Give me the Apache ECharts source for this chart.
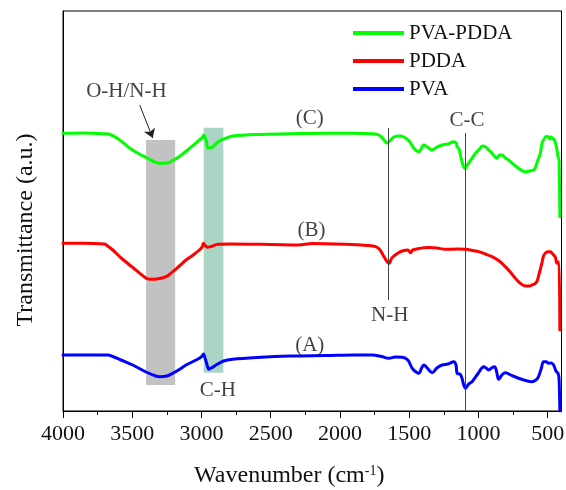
<!DOCTYPE html>
<html>
<head>
<meta charset="utf-8">
<script src="https://cdn.jsdelivr.net/npm/echarts@6/dist/echarts.min.js"></script>
<style>html,body{margin:0;padding:0;background:#fff}#c{width:566px;height:490px}</style>
</head>
<body>
<div id="c"></div>
<script>
// ---- data (wavenumber in cm^-1, transmittance in arbitrary offset units) ----
const seriesNames = ['PVA-PDDA', 'PDDA', 'PVA'];

const wnC = [4000,3850,3700,3660,3600,3520,3450,3400,3330,3300,3250,3220,3160,3085,3015,2990,2984,2965,2953,2935,2917,2880,2820,2772,2600,2363,2100,1900,1760,1720,1690,1659,1640,1610,1570,1538,1500,1466,1430,1394,1370,1334,1300,1262,1220,1178,1160,1154,1140,1122,1099,1070,1046,1020,998,970,950,925,902,880,866,848,830,805,782,750,710,680,661,630,602,590,578,565,553,540,530,510,497,485,475,460,451,440,430,425,418,412];
const tC  = [69.43,69.5,69.3,69.13,68.0,65.75,64.25,63.38,62.13,61.93,62.0,62.38,63.63,65.68,67.75,68.5,69.0,67.5,65.75,65.75,66.13,67.33,68.25,68.75,69.13,69.3,69.43,69.43,69.3,69.0,68.13,67.0,67.5,68.5,68.75,68.5,67.5,65.68,64.83,66.5,66.0,65.25,66.0,66.5,66.75,67.33,67.0,66.08,65.5,62.75,60.68,62.0,63.18,64.5,65.25,66.25,66.08,65.25,64.43,63.5,63.18,64.0,64.0,63.25,62.75,61.75,60.68,60.0,59.83,60.0,60.25,60.75,61.93,63.25,64.43,67.0,67.75,68.63,68.58,68.0,68.5,68.0,67.75,66.5,64.75,63.58,62.75,48.58];

const wnB = [4000,3850,3700,3687,3640,3580,3500,3430,3375,3320,3255,3207,3160,3111,3060,3015,2995,2986,2970,2955,2930,2883,2800,2500,2300,2200,1958,1800,1742,1710,1682,1646,1625,1610,1580,1550,1510,1490,1475,1454,1394,1350,1300,1238,1150,1094,1040,998,950,902,850,806,770,733,700,661,630,614,595,578,560,542,530,517,500,481,470,457,445,433,425,418,412];
const tB  = [41.93,41.93,41.75,41.5,40.25,38.25,36.0,34.0,32.93,33.0,33.58,34.83,36.25,37.75,39.0,40.25,41.0,41.93,41.25,40.93,41.13,41.68,41.75,41.63,41.5,41.88,41.68,41.38,41.08,40.25,38.58,36.93,38.25,38.75,39.5,40.0,40.25,39.58,40.25,40.43,40.83,40.88,40.75,40.43,40.5,40.43,40.13,39.83,39.25,38.58,37.5,36.08,34.75,33.18,32.0,31.25,31.25,31.5,31.75,32.33,34.5,36.93,38.75,39.43,39.83,39.83,39.5,39.0,38.5,36.93,37.25,37.25,20.25];

const wnA = [4000,3850,3676,3640,3580,3496,3400,3330,3303,3250,3207,3160,3111,3060,3015,2995,2986,2970,2955,2948,2930,2919,2895,2840,2775,2600,2363,2100,1900,1767,1700,1646,1600,1550,1510,1478,1450,1430,1410,1394,1370,1334,1300,1262,1220,1178,1162,1154,1135,1122,1094,1070,1046,1000,962,940,926,900,883,868,854,830,806,760,710,660,614,580,566,545,530,510,494,475,457,440,425,418,412];
const tA  = [14.0,14.0,14.0,13.63,12.75,11.5,9.75,8.75,8.58,8.75,9.43,10.38,11.5,12.38,13.18,13.75,14.25,12.75,11.0,10.43,10.75,10.93,11.5,12.5,12.93,13.38,13.75,13.88,14.0,14.0,13.63,13.18,13.5,13.43,12.75,10.68,9.75,9.43,10.75,11.5,10.75,9.58,10.75,11.5,11.75,12.33,11.5,9.43,9.25,8.58,5.68,6.75,7.33,9.5,11.08,10.63,10.25,10.88,11.08,9.75,7.93,9.0,9.58,8.88,8.18,7.63,7.33,7.88,8.58,10.75,12.33,12.33,11.93,12.0,11.5,10.0,9.43,8.25,0.0];

const xTickLabels = [4000, 3500, 3000, 2500, 2000, 1500, 1000, 500];
const xMinorTicks = [3750, 3250, 2750, 2250, 1750, 1250, 750];

// shaded bands: [fromWn, toWn, lowT, highT]
const bandOH = [3400, 3190, 6.5, 67.75];
const bandCH = [2984, 2842, 9.58, 70.83];
// vertical marker lines: [wn, lowT, highT]
const lineNH = [1653, 27.75, 70.75];
const lineCC = [1092, 0, 69.5];
// arrow: [wnStart, tStart, wnEnd, tEnd]
const arrowOH = [3446, 76.5, 3352, 68.25];
// text annotations
const noteText = ['(C)', '(B)', '(A)', 'C-C', 'N-H', 'C-H', 'O-H/N-H'];
const noteWn   = [2218, 2206, 2218, 1082, 1641, 2881, 3542];
const noteT    = [73.25, 45.25, 16.5, 72.75, 24.0, 5.25, 79.83];

// ---- chart ----
const FONT = '"Liberation Serif", "Times New Roman", serif';
const zip = (xs, ys) => xs.map((x, i) => [x, ys[i]]);

const chart = echarts.init(document.getElementById('c'), null, {renderer: 'canvas'});
const mkLine = (name, color, data) => ({
  name, type: 'line', data, z: 3,
  symbol: 'none', showSymbol: false,
  smooth: 0.35,
  lineStyle: {color, width: 3, join: 'round', cap: 'round'}, itemStyle: {color},
  emphasis: {disabled: true}
});

chart.setOption({
  animation: false,
  backgroundColor: '#fff',
  grid: {left: 63, right: 4.5, top: 11, height: 400, show: true, borderColor: '#000', borderWidth: 1,
         containLabel: false, outerBoundsMode: 'none'},
  legend: {
    data: seriesNames, orient: 'vertical', left: 353, top: 22.5, padding: 0,
    itemWidth: 51, itemHeight: 4, itemGap: 7,
    icon: 'rect',
    textStyle: {fontFamily: FONT, fontSize: 21, color: '#111', lineHeight: 21}
  },
  xAxis: [{
    type: 'value', inverse: true, min: 400, max: 4000,
    axisLine: {show: true, lineStyle: {color: '#000', width: 1}},
    axisTick: {show: true, inside: false, length: 7, lineStyle: {color: '#000'}, customValues: xTickLabels},
    axisLabel: {show: true, margin: 12, fontFamily: FONT, fontSize: 22, color: '#111',
      customValues: xTickLabels, formatter: v => String(v)},
    splitLine: {show: false},
    name: 'Wavenumber (cm{sup|-1})', nameLocation: 'middle', nameGap: 53,
    nameTextStyle: {fontFamily: FONT, fontSize: 24, color: '#111', padding: [0, 46, 0, 0],
      rich: {sup: {fontFamily: FONT, fontSize: 14, color: '#111', verticalAlign: 'top', padding: [0, 0, 8, 0]}}}
  }, {
    type: 'value', inverse: true, min: 400, max: 4000, position: 'bottom',
    axisLine: {show: false},
    axisTick: {show: true, inside: false, length: 4, lineStyle: {color: '#000'}, customValues: xMinorTicks},
    axisLabel: {show: false},
    splitLine: {show: false}
  }],
  yAxis: {
    type: 'value', min: 0, max: 100,
    axisLine: {show: true, lineStyle: {color: '#000', width: 1}},
    axisTick: {show: false}, axisLabel: {show: false}, splitLine: {show: false},
    name: 'Transmittance (a.u.)', nameLocation: 'middle', nameGap: 25,
    nameTextStyle: {fontFamily: FONT, fontSize: 24, color: '#111', padding: [0, 38, 0, 0]}
  },
  series: [
    {
      name: 'bands', type: 'line', data: [], z: 1, silent: true,
      markArea: {
        silent: true,
        data: [
          [{coord: [bandOH[0], bandOH[3]], itemStyle: {color: '#c2c2c2'}}, {coord: [bandOH[1], bandOH[2]]}],
          [{coord: [bandCH[0], bandCH[3]], itemStyle: {color: '#acd4c5'}}, {coord: [bandCH[1], bandCH[2]]}]
        ]
      },
      markLine: {
        silent: true, symbol: ['none', 'none'], label: {show: false},
        lineStyle: {color: '#444', width: 1, type: 'solid'},
        data: [
          [{coord: [lineNH[0], lineNH[1]]}, {coord: [lineNH[0], lineNH[2]]}],
          [{coord: [lineCC[0], lineCC[1]]}, {coord: [lineCC[0], lineCC[2]]}],
          [{coord: [arrowOH[0], arrowOH[1]], symbol: 'none'}, {coord: [arrowOH[2], arrowOH[3]], symbol: 'arrow', symbolSize: 9, lineStyle: {color: '#222', width: 1}}]
        ]
      }
    },
    mkLine('PVA-PDDA', '#00ff00', zip(wnC, tC)),
    mkLine('PDDA', '#ff0000', zip(wnB, tB)),
    mkLine('PVA', '#0000ff', zip(wnA, tA)),
    {
      name: 'notes', type: 'scatter', z: 5, silent: true,
      symbolSize: 1, itemStyle: {color: 'rgba(0,0,0,0)'},
      data: noteText.map((t, i) => [noteWn[i], noteT[i], t]),
      label: {show: true, position: 'inside', formatter: p => p.data[2],
        fontFamily: FONT, fontSize: 21, color: '#111'}
    }
  ]
});
</script>
</body>
</html>
